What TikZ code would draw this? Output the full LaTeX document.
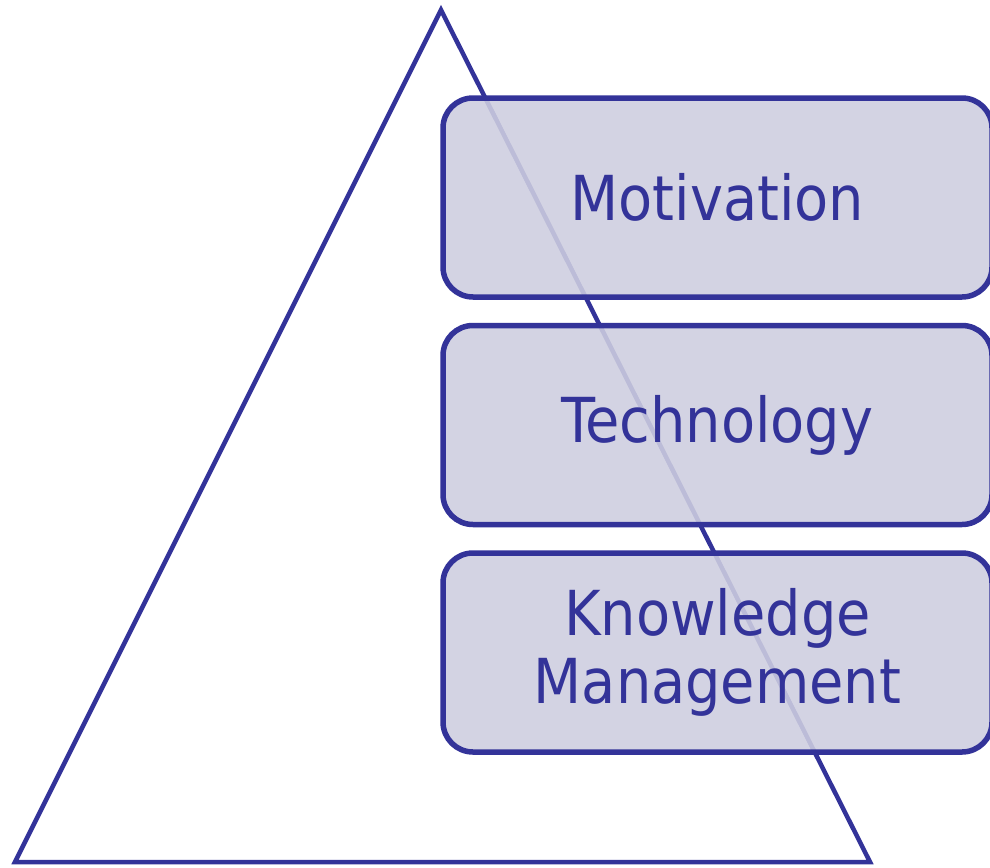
\documentclass[tikz,border=0pt]{standalone}
\usepackage{fontspec}
\setmainfont{DejaVu Sans Condensed}
\definecolor{navy}{RGB}{51,51,153}
\definecolor{boxfill}{RGB}{206,206,224}
\begin{document}
\begin{tikzpicture}[x=1pt,y=-1pt,
  layer/.style={draw=navy,line width=5.5pt,fill=boxfill,fill opacity=0.89,
    rounded corners=30pt,minimum width=549pt,minimum height=199pt,
    text=navy,text opacity=1,font=\fontsize{62}{68}\selectfont,align=center,
    inner sep=0pt}]
\useasboundingbox (0,0) rectangle (990,867);
\coordinate (apex) at (441,10);
\coordinate (bl) at (15,862);
\coordinate (br) at (870,862);
\draw[navy,line width=4.5pt,line join=miter] (apex) -- (bl) -- (br) -- cycle;
\node[layer] (mot) at (717.5,197.5) {Motivation};
\node[layer] (tech) at (717.5,425) {Technology};
\node[layer] (km) at (717.5,652.5) {Knowledge\\Management};
\end{tikzpicture}
\end{document}
